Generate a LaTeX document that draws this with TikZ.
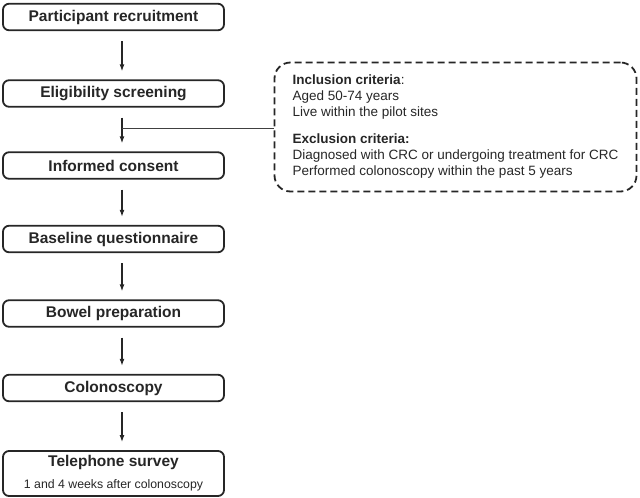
\documentclass[tikz,border=0pt]{standalone}
\usepackage{fontspec}
\setmainfont{Liberation Sans}
\usetikzlibrary{arrows.meta,calc}
\begin{document}
\begin{tikzpicture}[x=1pt,y=-1pt,
  stepbox/.style={draw=black!85, line width=1.8pt, rounded corners=6pt,
    minimum width=221pt, minimum height=26.5pt, inner sep=0pt,
    font=\fontsize{15.5}{18}\selectfont\bfseries, text=black!85},
  critbox/.style={draw=black!85, line width=1.8pt, rounded corners=16pt,
    dash pattern=on 7pt off 4pt, minimum width=362pt, minimum height=129pt,
    inner sep=0pt, align=left, font=\fontsize{13.5}{16}\selectfont, text=black!85},
  flow/.style={line width=1.3pt, draw=black!85, -{Latex[length=7pt,width=5pt]},
    shorten <=10pt, shorten >=8pt},
  link/.style={line width=1pt, draw=black!75}]
\useasboundingbox (0,0) rectangle (640,498);
\node[stepbox] (b1) at (113.5,17) {Participant recruitment};
\node[stepbox] (b2) at (113.5,93.5) {Eligibility screening};
\node[stepbox] (b3) at (113.5,165.5) {Informed consent};
\node[stepbox] (b4) at (113.5,239) {Baseline questionnaire};
\node[stepbox] (b5) at (113.5,313.5) {Bowel preparation};
\node[stepbox] (b6) at (113.5,388) {Colonoscopy};
\node[stepbox, minimum height=45pt, align=center] (b7) at (113.5,473.5)
  {Telephone survey\\[4pt]{\fontsize{12.3}{14}\selectfont\mdseries 1 and 4 weeks after colonoscopy}};
\node[critbox] (crit) at (455.5,127)
  {\textbf{Inclusion criteria}:\\
   Aged 50-74 years\\
   Live within the pilot sites\\[11pt]
   \textbf{Exclusion criteria:}\\
   Diagnosed with CRC or undergoing treatment for CRC\\
   Performed colonoscopy within the past 5 years};
\foreach \a/\b in {b1/b2,b2/b3,b3/b4,b4/b5,b5/b6,b6/b7}
  \draw[flow] ([xshift=8.5pt]\a.south) -- ([xshift=8.5pt]\b.north);
\coordinate (j) at ($([xshift=8.5pt]b2.south)+(0,21)$);
\draw[link] (j) -- (j -| crit.west);
\end{tikzpicture}
\end{document}
